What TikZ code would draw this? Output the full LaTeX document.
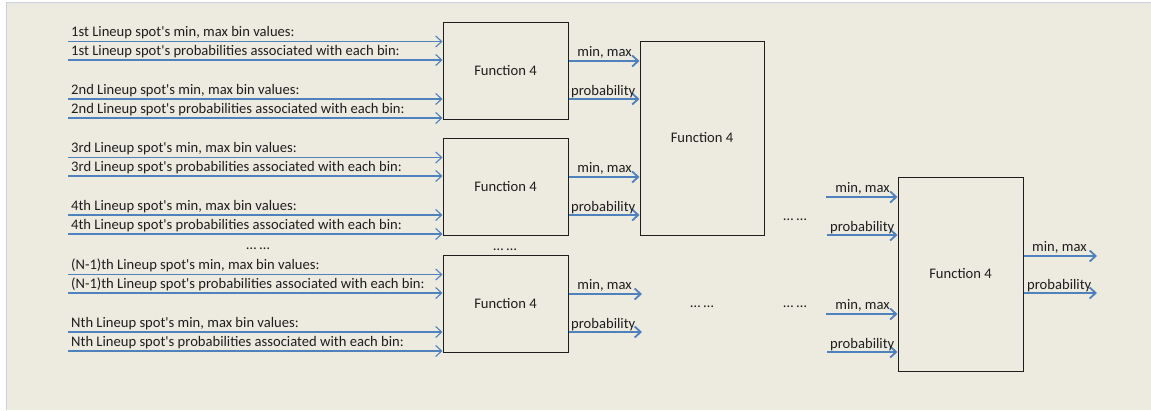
\documentclass[tikz,border=0pt]{standalone}
\usepackage{fontspec}
\setmainfont{Carlito}[Ligatures=TeXOff]
\usetikzlibrary{arrows.meta}
\definecolor{paper}{HTML}{EDEAE0}
\definecolor{rim}{HTML}{C9D1DE}
\definecolor{flow}{HTML}{4F81BD}
\definecolor{ink}{HTML}{1E1E1E}
\tikzset{
  txt/.style={font=\fontsize{14.6}{16}\selectfont, text=ink},
  fnbox/.style={txt, draw=ink, line width=1pt, fill=paper, inner sep=0pt,
                minimum width=125pt},
  feed/.style={draw=flow, line width=1.1pt,
               -{Straight Barb[length=6pt,width=11pt,line width=1.1pt]}},
  pass/.style={draw=flow, line width=1.8pt,
               -{Straight Barb[length=6pt,width=11pt]}},
  lbl/.style={txt, inner sep=0pt},
}
\begin{document}
\begin{tikzpicture}[x=1pt,y=-1pt]
  \useasboundingbox (0,0) rectangle (1151,410);
  % sheet
  \fill[white] (0,0) rectangle (1151,410);
  \fill[paper] (6,2) rectangle (1151,410);
  \draw[rim, line width=1pt] (6,410) -- (6,2) -- (1151,2);

  % first stage
  \node[fnbox, minimum height=97pt] (f1) at (505.5,70.5) {Function 4};
  \node[fnbox, minimum height=97pt] (f2) at (505.5,186.5) {Function 4};
  \node[fnbox, minimum height=97pt] (f3) at (505.5,303.5) {Function 4};
  % second stage
  \node[fnbox, minimum width=124pt, minimum height=194pt] (g) at (702,138) {Function 4};
  % last stage
  \node[fnbox, minimum height=194pt] (h) at (960.5,274) {Function 4};

  % per-spot inputs
  \foreach \o/\b/\ya/\yb [count=\i] in
     {1st/f1/41.5/60, 2nd/f1/99/118, 3rd/f2/157.5/176, 4th/f2/215/234,
      (N-1)th/f3/274.5/293, Nth/f3/332/351}{
    \coordinate (a\i) at (68,\ya);
    \coordinate (p\i) at (68,\yb);
    \draw[feed] (a\i) -- (a\i -| \b.west);
    \draw[feed] (p\i) -- (p\i -| \b.west);
    \node[lbl, anchor=base west] (la\i) at (71,\ya-5)
      {\o\ Lineup spot's min, max bin values:};
    \node[lbl, anchor=base west] (lp\i) at (71,\yb-5)
      {\o\ Lineup spot's probabilities associated with each bin:};
  }

  % first stage -> second stage
  \foreach \b/\ya/\yb in {f1/61/99, f2/177/215}{
    \coordinate (\b m) at (0,\ya);
    \coordinate (\b p) at (0,\yb);
    \draw[pass] (\b m -| \b.east) -- (\b m -| g.west);
    \draw[pass] (\b p -| \b.east) -- (\b p -| g.west);
    \node[lbl, anchor=base east] (\b lm) at (632,\ya-4.5) {min, max};
    \node[lbl, anchor=base west] (\b lp) at (571,\yb-4) {probability};
  }
  % third box outputs
  \coordinate (f3m) at (642,294);
  \coordinate (f3p) at (642,332);
  \draw[pass] (f3m -| f3.east) -- (f3m);
  \draw[pass] (f3p -| f3.east) -- (f3p);
  \node[lbl, anchor=base east] (f3lm) at (632,294-4.5) {min, max};
  \node[lbl, anchor=base west] (f3lp) at (571,332-4) {probability};

  % inputs of the last stage
  \foreach \ya/\yb [count=\i] in {197/235, 314/352}{
    \coordinate (hm\i) at (826,\ya);
    \coordinate (hp\i) at (827,\yb);
    \draw[pass] (hm\i) -- (hm\i -| h.west);
    \draw[pass] (hp\i) -- (hp\i -| h.west);
    \node[lbl, anchor=base east] (hlm\i) at (890,\ya-4.5) {min, max};
    \node[lbl, anchor=base west] (hlp\i) at (830,\yb-4) {probability};
  }

  % final outputs
  \coordinate (om) at (1097,256);
  \coordinate (op) at (1097,293);
  \draw[pass] (om -| h.east) -- (om);
  \draw[pass] (op -| h.east) -- (op);
  \node[lbl, anchor=base west] (olm) at (1032,256-4.5) {min, max};
  \node[lbl, anchor=base west] (olp) at (1027,293-4) {probability};

  % ellipses
  \node[lbl, anchor=base] (d1) at (258,249) {… …};
  \node[lbl, anchor=base] (d2) at (505,250) {… …};
  \node[lbl, anchor=base] (d3) at (795,220) {… …};
  \node[lbl, anchor=base] (d4) at (702,307) {… …};
  \node[lbl, anchor=base] (d5) at (795,307) {… …};
\end{tikzpicture}
\end{document}
